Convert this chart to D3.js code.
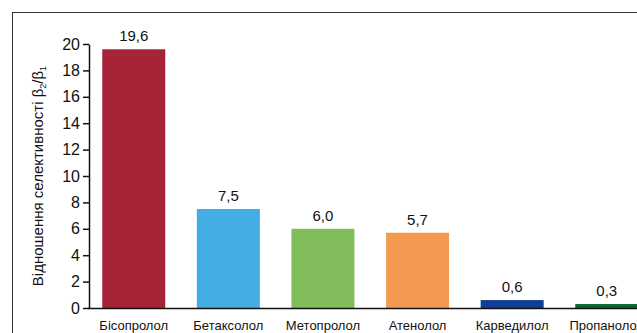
<!DOCTYPE html>
<html><head><meta charset="utf-8">
<script src="https://cdn.jsdelivr.net/npm/d3@7"></script>
<style>body{margin:0;background:#fff}svg{display:block}text{font-family:"Liberation Sans",Arial,sans-serif;fill:#111}</style>
</head><body>
<script>
const categories = ["Бісопролол","Бетаксолол","Метопролол","Атенолол","Карведилол","Пропанолол"];
const values = [19.6, 7.5, 6.0, 5.7, 0.6, 0.3];
const colors = ["#A72438","#42AEE3","#80BD5A","#F39A50","#0F3F94","#0A6A32"];
const yTicks = [0,2,4,6,8,10,12,14,16,18,20];

const W = 637, H = 333;
const svg = d3.select("body").append("svg").attr("width", W).attr("height", H);

svg.append("rect").attr("x", 12.5).attr("y", 12.5).attr("width", 700).attr("height", 400)
  .attr("fill", "none").attr("stroke", "#333").attr("stroke-width", 1);

const y = d3.scaleLinear().domain([0, 20]).range([308, 44]);
const x = d3.scaleBand().domain(categories).range([89, 651.5]).paddingInner(0.334).paddingOuter(0.14);

svg.selectAll("rect.bar").data(values).enter().append("rect").attr("class","bar")
  .attr("x", (d,i) => x(categories[i])).attr("width", x.bandwidth())
  .attr("y", d => y(d)).attr("height", d => y(0) - y(d))
  .attr("fill", (d,i) => colors[i]);

svg.selectAll("text.val").data(values).enter().append("text").attr("class","val")
  .attr("x", (d,i) => x(categories[i]) + x.bandwidth()/2)
  .attr("y", d => y(d) - 8).attr("text-anchor","middle").attr("font-size", 15)
  .text(d => d.toFixed(1).replace(".", ","));

const yAxis = svg.append("g").attr("transform","translate(89,0)")
  .call(d3.axisLeft(y).tickValues(yTicks).tickSize(6).tickPadding(3).tickSizeOuter(0));
yAxis.select(".domain").attr("stroke","#111").attr("stroke-width",1.5);
yAxis.selectAll(".tick line").attr("stroke","#111").attr("stroke-width",1.5);
yAxis.selectAll(".tick text").attr("font-size",16).attr("font-family",'"Liberation Sans",Arial,sans-serif').attr("fill","#111");

svg.append("line").attr("x1", 88).attr("x2", W).attr("y1", 308.5).attr("y2", 308.5)
  .attr("stroke","#111").attr("stroke-width",1.5);

svg.selectAll("text.cat").data(categories).enter().append("text").attr("class","cat")
  .attr("x", d => x(d) + x.bandwidth()/2).attr("y", 330)
  .attr("text-anchor","middle").attr("font-size", 13).text(d => d);

const t = svg.append("text").attr("transform","translate(43,176) rotate(-90)")
  .attr("text-anchor","middle").attr("font-size", 15);
t.append("tspan").text("Відношення селективності β");
t.append("tspan").attr("font-size", 9).attr("dy", 3).text("2");
t.append("tspan").attr("dy", -3).text("/β");
t.append("tspan").attr("font-size", 9).attr("dy", 3).text("1");
</script>
</body></html>
